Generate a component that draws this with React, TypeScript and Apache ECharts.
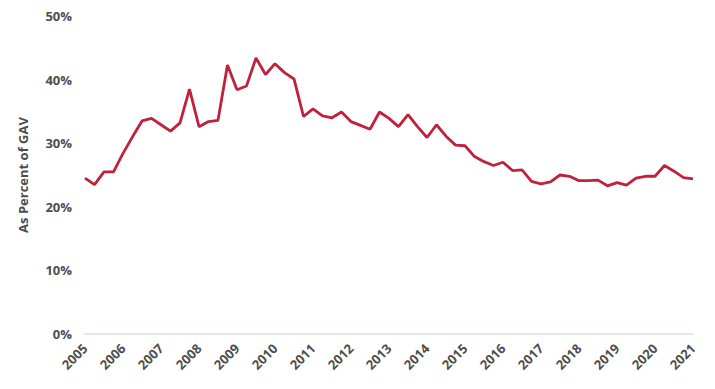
import React, { useEffect, useRef } from "react";
import * as echarts from "echarts";

const years = [
  "2005", "2006", "2007", "2008", "2009", "2010", "2011", "2012", "2013",
  "2014", "2015", "2016", "2017", "2018", "2019", "2020", "2021",
];
const quarters = ["Q1", "Q2", "Q3", "Q4"];

// Quarterly share (as percent of GAV), 2005 Q1 – 2021 Q1
const values = [
  24.5, 23.5, 25.5, 25.5,
  28.4, 31.0, 33.5, 33.9,
  32.9, 31.9, 33.2, 38.5,
  32.6, 33.4, 33.6, 42.3,
  38.4, 39.0, 43.4, 40.8,
  42.5, 41.1, 40.1, 34.2,
  35.4, 34.3, 34.0, 34.9,
  33.4, 32.8, 32.2, 34.9,
  33.9, 32.6, 34.5, 32.6,
  30.9, 32.9, 31.1, 29.7,
  29.6, 27.9, 27.1, 26.5,
  27.0, 25.7, 25.8, 24.0,
  23.6, 23.9, 25.0, 24.8,
  24.1, 24.1, 24.2, 23.3,
  23.8, 23.4, 24.5, 24.8,
  24.8, 26.5, 25.6, 24.6,
  24.4,
];

const categories: string[] = values.map(
  (_, i) => `${years[Math.floor(i / 4)]} ${quarters[i % 4]}`
);

const yTicks = [0, 10, 20, 30, 40, 50];

const FONT = "'Open Sans', 'Noto Sans', sans-serif";
const TEXT = "#4d4d4d";

export default function App() {
  const ref = useRef<HTMLDivElement>(null);
  useEffect(() => {
    if (!ref.current) return;
    const chart = echarts.init(ref.current, undefined, { renderer: "svg" });
    chart.setOption({
      animation: false,
      grid: { left: 75, right: 14, top: 8, bottom: 47, containLabel: false },
      xAxis: {
        type: "category",
        data: categories,
        boundaryGap: false,
        axisLine: { show: true, lineStyle: { color: "#e0e6f1", width: 2 } },
        axisTick: { show: false },
        splitLine: { show: false },
        axisLabel: {
          interval: (idx: number) => idx % 4 === 0,
          rotate: 45,
          margin: 12,
          color: TEXT,
          fontFamily: FONT,
          fontWeight: 700,
          fontSize: 13,
          formatter: (v: string) => v.split(" ")[0],
        },
      },
      yAxis: {
        type: "value",
        min: yTicks[0],
        max: yTicks[yTicks.length - 1],
        interval: 10,
        name: "As Percent of GAV",
        nameLocation: "middle",
        nameGap: 56,
        nameTextStyle: {
          color: TEXT,
          fontFamily: FONT,
          fontWeight: 700,
          fontSize: 13,
        },
        axisLine: { show: false },
        axisTick: { show: false },
        splitLine: { show: false },
        axisLabel: {
          margin: 13,
          color: TEXT,
          fontFamily: FONT,
          fontWeight: 700,
          fontSize: 13,
          formatter: (v: number) => `${v}%`,
        },
      },
      series: [
        {
          type: "line",
          data: values,
          symbol: "none",
          lineStyle: { color: "#c1213a", width: 2.8 },
          itemStyle: { color: "#c1213a" },
        },
      ],
    });
    return () => chart.dispose();
  }, []);
  return <div ref={ref} style={{ width: 699, height: 373 }} />;
}
